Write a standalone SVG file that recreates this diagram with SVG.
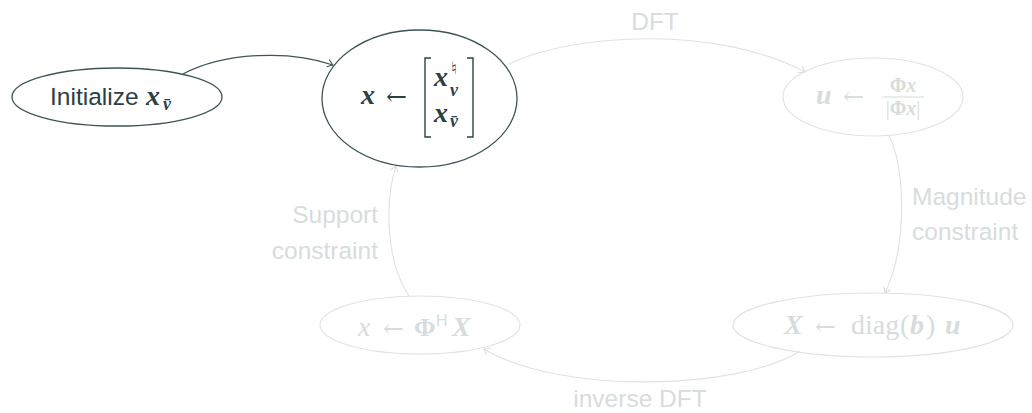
<svg xmlns="http://www.w3.org/2000/svg" width="1032" height="413" viewBox="0 0 1032 413">
  <defs>
    <style>
      .bg { fill: #ffffff; }
      .node-on { fill: none; stroke: #3d5457; stroke-width: 1.3; }
      .node-off { fill: none; stroke: #e0e2e2; stroke-width: 1.1; }
      .edge-on { fill: none; stroke: #3d5457; stroke-width: 1.2; }
      .edge-off { fill: none; stroke: #e0e2e2; stroke-width: 1.1; }
      .txt-on { fill: #2c4044; }
      .txt-off { fill: #d7dcdc; }
      .sans { font-family: "Liberation Sans", Arial, sans-serif; }
      .lbl { font-size: 24.5px; }
      .mb { font-family: "Liberation Serif", "Times New Roman", serif; font-style: italic; font-weight: bold; }
      .mi { font-family: "Liberation Serif", "Times New Roman", serif; font-style: italic; }
      .rm { font-family: "Liberation Serif", "Times New Roman", serif; }
      .bf { font-family: "Liberation Serif", "Times New Roman", serif; font-weight: bold; }
      .sym { font-family: "DejaVu Serif", "DejaVu Sans", serif; }
      .music { font-family: "DejaVu Sans", sans-serif; }
      .brk-on { fill: none; stroke: #2c4044; stroke-width: 1.4; }
      .bar-off { stroke: #d7dcdc; stroke-width: 1.1; }
    </style>
    <marker id="tip-on" viewBox="-6 -5 8 10" markerWidth="8" markerHeight="10" refX="0" refY="0" orient="auto" markerUnits="userSpaceOnUse">
      <path d="M -5 -3.6 Q -1.2 -0.8 0 0 Q -1.2 0.8 -5 3.6" fill="none" stroke="#3d5457" stroke-width="1.1" stroke-linecap="round"/>
    </marker>
    <marker id="tip-off" viewBox="-6 -5 8 10" markerWidth="8" markerHeight="10" refX="0" refY="0" orient="auto" markerUnits="userSpaceOnUse">
      <path d="M -5 -3.6 Q -1.2 -0.8 0 0 Q -1.2 0.8 -5 3.6" fill="none" stroke="#d9dcdc" stroke-width="1.1" stroke-linecap="round"/>
    </marker>
  </defs>

  <rect class="bg" x="0" y="0" width="1032" height="413"/>

  <!-- connectors -->
  <g id="edges">
    <path id="e-init" class="edge-on" d="M183,74 C225,52 290,50 333,65" marker-end="url(#tip-on)"/>
    <path id="e-dft" class="edge-off" d="M509,64 C575,32 720,26 805,72" marker-end="url(#tip-off)"/>
    <path id="e-mag" class="edge-off" d="M889,136 C905,165 908,245 885,293" marker-end="url(#tip-off)"/>
    <path id="e-idft" class="edge-off" d="M800,351 C740,390 560,395 484,349" marker-end="url(#tip-off)"/>
    <path id="e-supp" class="edge-off" d="M409,296 C385,260 385,200 396,166" marker-end="url(#tip-off)"/>

    <text class="sans lbl txt-off" x="655" y="30" text-anchor="middle">DFT</text>
    <text class="sans lbl txt-off" x="912" y="205">Magnitude</text>
    <text class="sans lbl txt-off" x="912" y="240">constraint</text>
    <text class="sans lbl txt-off" x="640" y="407" text-anchor="middle">inverse DFT</text>
    <text class="sans lbl txt-off" x="378" y="223" text-anchor="end">Support</text>
    <text class="sans lbl txt-off" x="378" y="259" text-anchor="end">constraint</text>
  </g>

  <!-- initialization -->
  <g id="node-init">
    <ellipse class="node-on" cx="117" cy="97" rx="105" ry="29"/>
    <text class="sans lbl txt-on" x="50" y="105">Initialize</text>
    <text class="mb txt-on" x="146" y="105" font-size="28">x</text>
    <text class="mb txt-on" x="163" y="110" font-size="18">v̄</text>
  </g>

  <!-- current estimate -->
  <g id="node-est">
    <ellipse class="node-on" cx="419.5" cy="98.5" rx="97.5" ry="68.5"/>
    <text class="mb txt-on" x="361" y="104" font-size="28">x</text>
    <text class="sym txt-on" x="386" y="105" font-size="25">←</text>
    <polyline class="brk-on" points="431,58 425,58 425,137 431,137"/>
    <polyline class="brk-on" points="467,58 473,58 473,137 467,137"/>
    <text class="mb txt-on" x="434" y="86" font-size="28">x</text>
    <text class="music txt-on" x="451" y="74" font-size="17">♮</text>
    <text class="mb txt-on" x="450" y="96" font-size="18">v</text>
    <text class="mb txt-on" x="434" y="122" font-size="28">x</text>
    <text class="mb txt-on" x="450" y="127" font-size="18">v̄</text>
  </g>

  <!-- spectral phase -->
  <g id="node-phase">
    <ellipse class="node-off" cx="873" cy="97" rx="90" ry="39"/>
    <text class="mb txt-off" x="816" y="104" font-size="28">u</text>
    <text class="sym txt-off" x="843" y="105" font-size="25">←</text>
    <text class="txt-off" x="903" y="92" font-size="20" text-anchor="middle"><tspan class="bf">Φ</tspan><tspan class="mb">x</tspan></text>
    <line class="bar-off" x1="882" y1="97" x2="924" y2="97"/>
    <text class="txt-off" x="903" y="115" font-size="20" text-anchor="middle"><tspan class="rm">|</tspan><tspan class="bf">Φ</tspan><tspan class="mb">x</tspan><tspan class="rm">|</tspan></text>
  </g>

  <!-- magnitude projection -->
  <g id="node-mag">
    <ellipse class="node-off" cx="873" cy="325" rx="140" ry="32"/>
    <text class="mb txt-off" x="784" y="334" font-size="28">X</text>
    <text class="sym txt-off" x="815" y="335" font-size="25">←</text>
    <text class="rm txt-off" x="851" y="334" font-size="28">diag</text>
    <text class="rm txt-off" x="900" y="334" font-size="28">(</text>
    <text class="mb txt-off" x="910" y="334" font-size="28">b</text>
    <text class="rm txt-off" x="926" y="334" font-size="28">)</text>
    <text class="mb txt-off" x="945" y="334" font-size="28">u</text>
  </g>

  <!-- back to object domain -->
  <g id="node-back">
    <ellipse class="node-off" cx="420" cy="325" rx="100" ry="29"/>
    <text class="mi txt-off" x="358" y="336" font-size="28">x</text>
    <text class="sym txt-off" x="383" y="337" font-size="25">←</text>
    <text class="bf txt-off" x="414" y="336" font-size="26">Φ</text>
    <text class="sans txt-off" x="436" y="326" font-size="16">H</text>
    <text class="mb txt-off" x="452" y="336" font-size="28">X</text>
  </g>
</svg>
